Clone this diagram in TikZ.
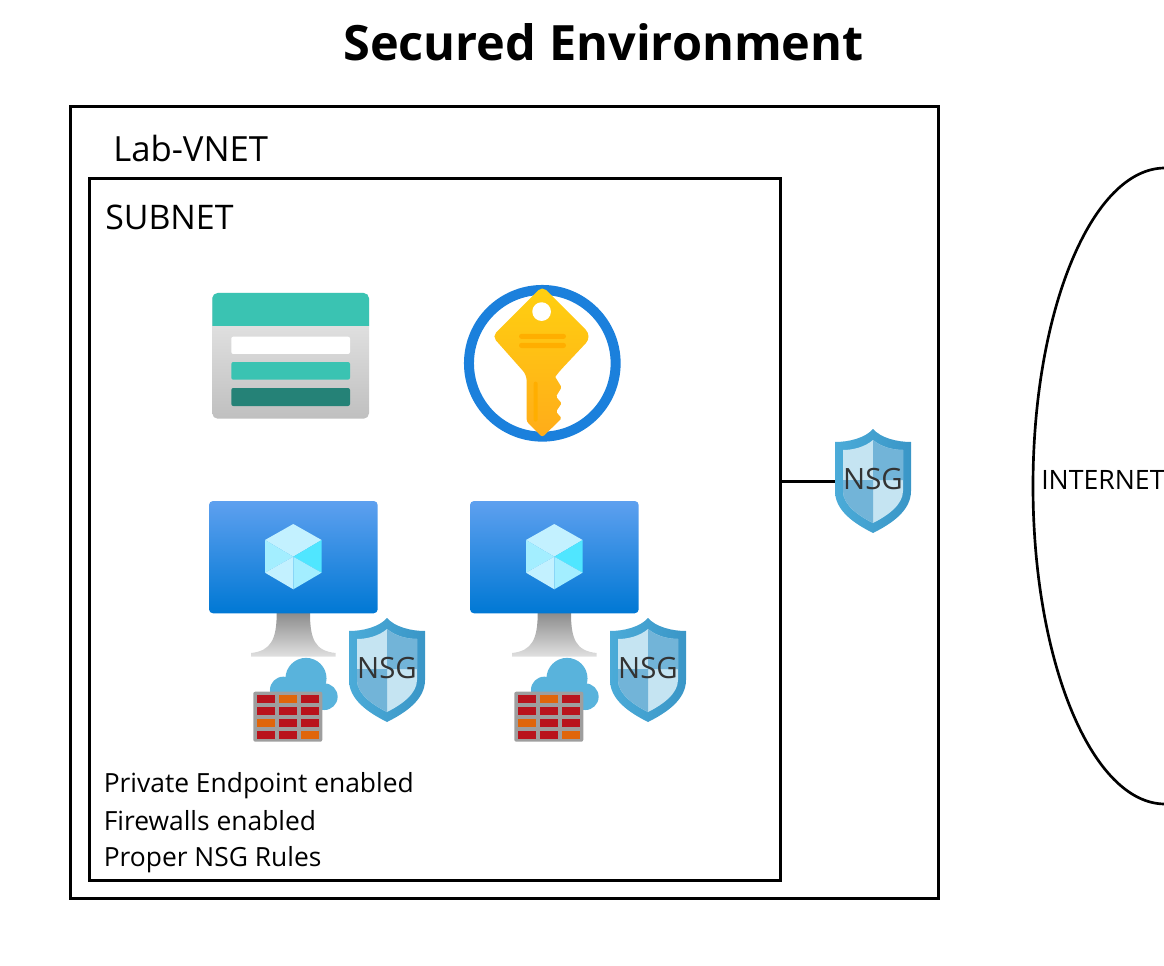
\documentclass[tikz,border=0pt]{standalone}
\usepackage{fontspec}
\usetikzlibrary{shapes.geometric}
\setmainfont{Open Sans}
\definecolor{shieldrim}{HTML}{3A96C7}
\definecolor{shieldrimlight}{HTML}{4BABD8}
\definecolor{shieldpale}{HTML}{C5E4F2}
\definecolor{shieldmid}{HTML}{72B4D8}
\definecolor{tealtop}{HTML}{3AC3B2}
\definecolor{tealdark}{HTML}{258277}
\definecolor{keyring}{HTML}{1B80DC}
\definecolor{keytop}{HTML}{FFD010}
\definecolor{keymid}{HTML}{FFD90F}
\definecolor{keylow}{HTML}{FFAC1A}
\definecolor{keyslot}{HTML}{FFAE00}
\definecolor{brickred}{HTML}{B9131C}
\definecolor{brickorange}{HTML}{E0650A}
\definecolor{cloudblue}{HTML}{59B3DC}
\definecolor{screentop}{HTML}{5EA0EF}
\definecolor{screenlow}{HTML}{0078D4}
\definecolor{hexpale}{HTML}{C3F1FF}
\definecolor{hexmid}{HTML}{A3EEFF}
\definecolor{hexbright}{HTML}{50E6FF}
\tikzset{
  framebox/.style={draw=black, line width=2.25pt, inner sep=0pt},
  wire/.style={draw=black, line width=2.25pt},
  bodytext/.style={font=\fontsize{19.8pt}{22pt}\selectfont, inner sep=0pt, anchor=base west},
  nsgtext/.style={font=\fontsize{22pt}{24pt}\selectfont, text=black!80, inner sep=0pt, minimum width=57pt},
  pics/nsgshield/.style={code={
    \shade[left color=shieldrimlight, right color=shieldrim] (0,-52) .. controls (8,-43) and (24,-39) .. (38,-39) -- (38,10)
      .. controls (38,30) and (18,43) .. (0,52) .. controls (-18,43) and (-38,30) .. (-38,10)
      -- (-38,-39) .. controls (-24,-39) and (-8,-43) .. (0,-52) -- cycle;
    \fill[shieldpale] (0,-41) .. controls (-8,-34) and (-20,-31) .. (-30,-31) -- (-30,10)
      .. controls (-30,24) and (-14,35) .. (0,42) .. controls (14,35) and (30,24) .. (30,10)
      -- (30,-31) .. controls (20,-31) and (8,-34) .. (0,-41) -- cycle;
    \fill[shieldmid] (0,-41) .. controls (8,-34) and (20,-31) .. (30,-31) -- (30,-1) -- (0,-1) -- cycle;
    \fill[shieldmid] (-30,-1) -- (0,-1) -- (0,42) .. controls (-14,35) and (-30,24) .. (-30,10) -- cycle;
    \node[nsgtext] (-label) at (0,-2) {NSG};
    \coordinate (-hook) at (-38,0);
  }},
  pics/firewall/.style={code={
    \fill[cloudblue] (52.7,-13.3) circle (15.4pt);
    \fill[cloudblue] (30,-1.7) circle (10pt);
    \fill[cloudblue] (71,5) circle (10pt);
    \fill[cloudblue] (30,0) rectangle (71,18.3);
    \fill[black!38, rounded corners=1.5pt] (0,0) rectangle (69,50);
    \foreach \cx/\cy/\brick in {3.3/3.3/brickred, 25.7/3.3/brickorange, 47.7/3.3/brickred,
      3.3/15/brickred, 25.7/15/brickred, 47.7/15/brickred,
      3.3/27/brickorange, 25.7/27/brickred, 47.7/27/brickred,
      3.3/39/brickred, 25.7/39/brickred, 47.7/39/brickorange}
      \fill[\brick] (\cx,\cy) rectangle +(18.3,8.3);
  }},
  pics/vmscreen/.style={code={
    \shade[top color=black!45, bottom color=black!12]
      (67.7,112) -- (101,112) .. controls (101,138) and (106,150) .. (126.7,152) -- (126.7,155.7)
      -- (42,155.7) -- (42,152) .. controls (62,150) and (67.7,138) .. (67.7,112) -- cycle;
    \shade[top color=screentop, bottom color=screenlow, rounded corners=3pt]
      (0,0) rectangle (168.7,112.3);
    \fill[hexpale] (84.3,23) -- (112.6,39) -- (84.3,55.7) -- (56,39) -- cycle;
    \fill[hexmid] (56,39) -- (84.3,55.7) -- (56,71.7) -- cycle;
    \fill[hexpale] (56,71.7) -- (84.3,55.7) -- (84.3,88.3) -- cycle;
    \fill[hexbright] (112.6,39) -- (84.3,55.7) -- (112.6,71.7) -- cycle;
    \fill[hexmid] (112.6,71.7) -- (84.3,55.7) -- (84.3,88.3) -- cycle;
  }}
}
\begin{document}
\begin{tikzpicture}[x=0.75pt, y=-0.75pt]
  \useasboundingbox (0,0) rectangle (1164,966);
  \clip (0,0) rectangle (1164,966);

  \node[font=\bfseries\fontsize{36.5pt}{40pt}\selectfont, inner sep=0pt] (title) at (603.5,42) {Secured Environment};

  \node[framebox, minimum width=650.6pt, minimum height=594.15pt] (vnet) at (504.5,502.6) {};
  \node[framebox, minimum width=518.1pt, minimum height=526.5pt] (subnet) at (435.1,529.7) {};
  \node[bodytext, font=\fontsize{26pt}{28pt}\selectfont] (vnetlabel) at (113,161.5) {Lab-VNET};
  \node[bodytext, font=\fontsize{25.4pt}{28pt}\selectfont] (subnetlabel) at (105,229.5) {SUBNET};

  \begin{scope}[shift={(212.3,293)}]
    \shade[top color=black!8, bottom color=black!25, rounded corners=4pt] (0,0) rectangle (156.7,125.7);
    \fill[tealtop, rounded corners=4pt] (0,33) [sharp corners] -- (0,4) [rounded corners=4pt] -- (0,0) -- (156.7,0) [sharp corners] -- (156.7,33) -- cycle;
    \fill[white, rounded corners=1.5pt] (19,43.7) rectangle (137.7,61);
    \fill[tealtop, rounded corners=1.5pt] (19,69) rectangle (137.7,86.7);
    \fill[tealdark, rounded corners=1.5pt] (19,95) rectangle (137.7,113);
  \end{scope}

  \begin{scope}[shift={(542.3,363.3)}]
    \draw[keyring, line width=7.5pt] (0,0) circle (55pt);
    \shade[top color=keytop, middle color=keymid, bottom color=keylow]
      [rounded corners=7pt] (0,-77) -- (50,-27) -- (13.7,11.7)
      [rounded corners=1pt] -- (12.7,13.3) -- (19.3,24) -- (13.7,33.3) -- (19.3,40) -- (13.7,48.3) -- (19.3,55)
      [rounded corners=2pt] -- (0,74) -- (-15.7,58.3)
      [rounded corners=4pt] -- (-15.7,11.7) -- (-50,-27) -- cycle;
    \fill[white] (-0.7,-51.7) circle (7pt);
    \fill[keyslot, rounded corners=2pt] (-23.3,-29.5) rectangle (23.7,-24.3);
    \fill[keyslot, rounded corners=2pt] (-23.3,-20.5) rectangle (23.7,-15.2);
    \fill[keyslot, rounded corners=1.5pt] (-8.7,18.3) rectangle (-4.7,58.3);
  \end{scope}

  \pic at (209,501) {vmscreen};
  \pic at (253.3,691.7) {firewall};
  \pic (nsgleft) at (387,670) {nsgshield};

  \begin{scope}[shift={(261,0)}]
    \pic at (209,501) {vmscreen};
    \pic at (253.3,691.7) {firewall};
    \pic (nsgright) at (387,670) {nsgshield};
  \end{scope}

  \pic (nsgouter) at (873,481) {nsgshield};
  \draw[wire] (subnet.east |- nsgouter-hook) -- (nsgouter-hook);

  \node[bodytext] (endpointnote) at (103.5,792.3) {Private Endpoint enabled};
  \node[bodytext] (firewallnote) at (103.5,830.7) {Firewalls enabled};
  \node[bodytext] (rulesnote) at (103.5,866.7) {Proper NSG Rules};

  \node[draw=black, line width=2pt, ellipse, minimum width=198pt, minimum height=477pt, inner sep=0pt] (internet) at (1165,486) {};
  \node[bodytext, font=\fontsize{20pt}{22pt}\selectfont] (internetlabel) at (1041,489) {INTERNET};
\end{tikzpicture}
\end{document}
